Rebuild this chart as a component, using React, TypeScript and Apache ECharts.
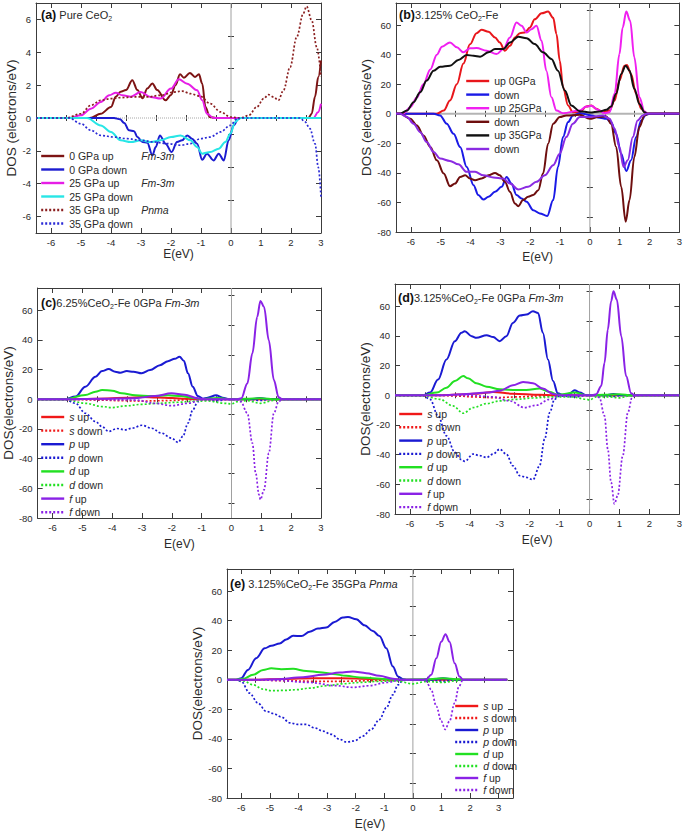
import React, { useEffect, useRef } from 'react';
import * as echarts from 'echarts';

// ---------- tick values ----------
const X_MAJ = [-6, -5, -4, -3, -2, -1, 0, 1, 2, 3];
const X_MIN = [-5.5, -4.5, -3.5, -2.5, -1.5, -0.5, 0.5, 1.5, 2.5];
const Y_MAJ_A = [-6, -4, -2, 0, 2, 4, 6];
const Y_MIN_A = [-5, -3, -1, 1, 3, 5];
const Y_MAJ = [-80, -60, -40, -20, 0, 20, 40, 60];
const Y_MIN = [-70, -50, -30, -10, 10, 30, 50, 70];

// ---------- panel (a) Pure CeO2 ----------
const a0up = [[-6.5,0],[-4.7,0],[-4.34,0.26],[-4.0,0.67],[-3.84,1.3],[-3.68,1.6],[-3.5,1.7],[-3.29,2.3],[-3.12,1.7],[-2.95,1.2],[-2.79,1.8],[-2.62,2.1],[-2.46,1.7],[-2.18,1.08],[-2.0,1.4],[-1.85,2.0],[-1.7,2.66],[-1.57,2.45],[-1.37,2.74],[-1.2,2.5],[-1.07,2.66],[-0.96,2.1],[-0.85,0.67],[-0.71,0.06],[-0.5,0],[2.58,0],[2.69,0.26],[2.8,1.3],[2.91,2.5],[3.0,3.5]];
const a0down = [[-6.5,0],[-3.9,0],[-3.7,-0.08],[-3.56,-0.3],[-3.4,-0.75],[-3.23,-0.8],[-3.12,-1.16],[-2.95,-1.46],[-2.79,-1.5],[-2.62,-2.27],[-2.51,-1.77],[-2.37,-1.06],[-2.18,-1.56],[-1.98,-2.07],[-1.8,-1.46],[-1.63,-1.36],[-1.46,-1.06],[-1.3,-1.26],[-1.13,-1.56],[-0.96,-2.54],[-0.8,-2.17],[-0.58,-2.58],[-0.41,-2.17],[-0.24,-2.58],[-0.08,-1.36],[0.09,-0.45],[0.25,0],[3,0]];
const a25up = [[-6.5,0],[-5.4,0],[-5.0,0.16],[-4.67,0.57],[-4.34,0.97],[-4.06,1.38],[-3.84,1.54],[-3.62,1.38],[-3.34,1.3],[-3.01,1.58],[-2.68,1.28],[-2.35,1.18],[-2.0,1.79],[-1.74,2.36],[-1.46,2.09],[-1.13,1.69],[-0.96,1.08],[-0.8,0.26],[-0.58,0],[2.75,0],[2.9,0.35],[3.0,0.87]];
const a25down = [[-6.5,0],[-4.8,0],[-4.34,-0.45],[-4.0,-0.85],[-3.68,-1.36],[-3.34,-1.46],[-3.0,-1.36],[-2.68,-1.46],[-2.35,-1.36],[-2.0,-1.16],[-1.68,-1.06],[-1.35,-1.36],[-1.13,-1.77],[-0.96,-2.17],[-0.69,-2.07],[-0.41,-1.87],[-0.19,-1.46],[-0.02,-0.95],[0.14,-0.24],[0.31,0],[3,0]];
const a35up = [[-6.5,0],[-5.5,0],[-5.0,0.26],[-4.67,0.77],[-4.34,1.08],[-4.0,1.18],[-3.68,1.24],[-3.23,1.28],[-2.79,1.28],[-2.35,1.38],[-1.9,1.58],[-1.63,1.64],[-1.35,1.48],[-1.02,1.32],[-0.69,0.87],[-0.35,0.37],[-0.02,0.06],[0.31,0],[0.59,0.16],[0.86,0.67],[1.09,1.18],[1.25,1.42],[1.42,1.28],[1.58,1.08],[1.75,1.69],[1.97,3.1],[2.19,4.93],[2.41,6.36],[2.52,6.8],[2.69,5.95],[2.86,4.3],[3.0,2.5]];
const a35down = [[-6.5,0],[-5.4,0],[-5.0,-0.35],[-4.67,-0.75],[-4.34,-1.06],[-3.9,-1.16],[-3.45,-1.26],[-3.0,-1.36],[-2.57,-1.46],[-2.13,-1.56],[-1.68,-1.66],[-1.35,-1.56],[-1.02,-1.26],[-0.69,-1.16],[-0.35,-0.85],[-0.02,-0.45],[0.2,-0.04],[0.4,0],[2.3,0],[2.47,-0.24],[2.63,-0.65],[2.8,-1.56],[2.91,-3.0],[3.0,-4.8]];

// ---------- panel (b) 3.125% CeO2-Fe ----------
const b0up = [[-6.5,0],[-5.13,0],[-4.9,2.2],[-4.69,9],[-4.46,20],[-4.24,34],[-4.02,47],[-3.8,54.6],[-3.63,56.9],[-3.4,55.5],[-3.18,51.7],[-3.02,48.3],[-2.85,42.7],[-2.68,46],[-2.51,51.7],[-2.35,54.6],[-2.18,55],[-2.01,58.4],[-1.85,64],[-1.62,68],[-1.4,69.2],[-1.23,65],[-1.12,54],[-1.01,36],[-0.9,18],[-0.73,5.6],[-0.57,1.1],[-0.34,1.1],[-0.12,4.9],[0.05,5.6],[0.21,3.4],[0.44,1.1],[0.66,2.2],[0.83,9],[0.99,22.5],[1.16,32.6],[1.24,33],[1.38,27],[1.55,13.5],[1.72,3.4],[1.88,0.4],[2.0,0],[3,0]];
const b0down = [[-6.5,0],[-5.24,0],[-5.02,-1.1],[-4.8,-6.7],[-4.57,-13.5],[-4.35,-22.5],[-4.13,-36],[-3.9,-48.3],[-3.74,-55],[-3.57,-58],[-3.4,-56.2],[-3.18,-52.8],[-2.96,-49.4],[-2.79,-42.7],[-2.63,-47.2],[-2.46,-55],[-2.29,-57.3],[-2.12,-59.6],[-1.9,-65.2],[-1.68,-67.4],[-1.43,-69.2],[-1.23,-58.4],[-1.07,-36],[-0.9,-15.7],[-0.73,-5.6],[-0.57,-1.1],[-0.34,0.4],[0.05,-1.1],[0.33,-2.7],[0.55,-3.4],[0.71,-5.6],[0.88,-13.5],[1.05,-27],[1.22,-38.7],[1.38,-31.5],[1.55,-15.7],[1.72,-4.5],[1.88,-0.7],[2.0,0],[3,0]];
const b25up = [[-6.5,0],[-6.36,0],[-6.24,0.4],[-6.02,4.5],[-5.8,11],[-5.58,20],[-5.35,30],[-5.13,40],[-4.96,45.4],[-4.69,48.3],[-4.46,45],[-4.24,41.6],[-4.02,44.3],[-3.8,44.5],[-3.46,42.7],[-3.13,40.4],[-2.9,43.8],[-2.68,51.7],[-2.46,61.8],[-2.29,59.6],[-2.12,55],[-1.96,57.3],[-1.79,59.6],[-1.62,49.4],[-1.46,29.2],[-1.29,11.2],[-1.12,2.2],[-0.9,0.4],[-0.34,2.2],[-0.12,4.9],[0.05,5.4],[0.27,2.7],[0.49,0.4],[0.66,1.1],[0.83,13.5],[0.99,40.4],[1.1,58.4],[1.22,69.2],[1.35,63],[1.49,38.2],[1.66,11.2],[1.83,1.6],[1.95,0],[3,0]];
const b25down = [[-6.5,0],[-6.36,0],[-6.02,-3.4],[-5.8,-7.9],[-5.58,-14.6],[-5.35,-22.5],[-5.13,-31.5],[-4.9,-40.4],[-4.69,-49],[-4.52,-47.2],[-4.35,-42.7],[-4.18,-41.6],[-4.02,-43.8],[-3.85,-45],[-3.63,-43.8],[-3.4,-41.6],[-3.18,-40],[-3.02,-41.6],[-2.85,-46],[-2.68,-52.8],[-2.51,-60.7],[-2.4,-62.5],[-2.24,-58.4],[-2.07,-56.2],[-1.9,-55],[-1.73,-51.7],[-1.57,-40.4],[-1.4,-20.2],[-1.23,-6.7],[-1.01,-2.2],[-0.79,-1.1],[-0.34,-0.7],[0.0,-3.4],[0.27,-2.2],[0.55,-1.8],[0.71,-6.7],[0.88,-22.5],[1.05,-49.4],[1.2,-73],[1.33,-58.4],[1.49,-29.2],[1.66,-9],[1.83,-1.1],[1.95,0],[3,0]];
const b35up = [[-6.5,0],[-6.36,0],[-6.13,2.2],[-5.91,7.9],[-5.69,14.6],[-5.47,22.5],[-5.24,29.2],[-5.02,31.9],[-4.69,32.6],[-4.41,36.4],[-4.13,39.8],[-3.9,39.3],[-3.68,38.7],[-3.4,41.6],[-3.18,43.8],[-2.9,43.8],[-2.68,48.3],[-2.4,52.1],[-2.12,51.2],[-1.85,47.2],[-1.57,41.6],[-1.29,37.1],[-1.07,29.2],[-0.84,15.7],[-0.62,5.6],[-0.34,1.8],[0.0,0.9],[0.33,1.6],[0.55,2.7],[0.71,4.9],[0.88,13.5],[1.05,27],[1.2,32.6],[1.33,29.2],[1.49,16.9],[1.66,6.7],[1.83,1.1],[1.95,0],[3,0]];
const b35down = [[-6.5,0],[-6.36,0],[-6.13,-2.2],[-5.91,-6.7],[-5.69,-12.4],[-5.47,-19.1],[-5.24,-25.8],[-5.02,-30.3],[-4.69,-31.9],[-4.41,-34.2],[-4.13,-39.3],[-3.85,-39.3],[-3.57,-41.6],[-3.24,-43.1],[-2.9,-43.8],[-2.68,-47.2],[-2.4,-51.2],[-2.07,-49.4],[-1.79,-46],[-1.51,-41.6],[-1.23,-34.8],[-1.01,-27],[-0.79,-15.7],[-0.57,-6.7],[-0.34,-2.2],[0.0,-2.2],[0.44,-1.1],[0.66,-3.4],[0.83,-10.1],[0.99,-22.5],[1.13,-36],[1.27,-31.5],[1.44,-15.7],[1.6,-4.5],[1.77,-1.1],[1.9,0],[3,0]];

// ---------- panel (c) 6.25%CeO2-Fe 0GPa ----------
const cSup = [[-6.5,0],[-5.5,0],[-4.5,0.4],[-3.5,1],[-3,1.5],[-2.5,1.2],[-2,0.8],[-1.5,0.3],[-1.1,0],[3,0]];
const cSdown = [[-6.5,0],[-5.5,0],[-4.5,-0.5],[-3.5,-1],[-3,-1.2],[-2.5,-1],[-2,-0.8],[-1.5,-0.3],[-1.1,0],[3,0]];
const cPup = [[-6.5,0],[-5.6,0],[-5.23,1.8],[-4.9,8.5],[-4.56,15.2],[-4.34,19],[-4.12,20.4],[-3.9,18.6],[-3.73,17.9],[-3.51,19],[-3.29,18.6],[-3.01,17.5],[-2.73,19.7],[-2.4,23],[-2.13,25.7],[-1.9,27.3],[-1.74,28.7],[-1.6,26],[-1.46,17.5],[-1.3,8.5],[-1.13,2.2],[-0.96,0.4],[-0.8,1.1],[-0.52,2.7],[-0.3,1.1],[-0.08,0],[0.6,0],[0.95,0.8],[1.3,0],[3,0]];
const cPdown = [[-6.5,0],[-5.6,0],[-5.23,-2.7],[-4.9,-9.4],[-4.56,-15],[-4.34,-18.4],[-4.12,-21.7],[-3.84,-19.7],[-3.57,-20.6],[-3.34,-19.5],[-3.0,-17.5],[-2.68,-19.5],[-2.35,-22.8],[-2.01,-26.2],[-1.79,-29.1],[-1.63,-25],[-1.46,-16.1],[-1.3,-7.2],[-1.13,-1.6],[-0.96,0],[-0.5,-1],[-0.1,0],[0.6,0],[0.95,-0.8],[1.3,0],[3,0]];
const cDup = [[-6.5,0],[-5.6,0],[-4.9,2.9],[-4.56,5.1],[-4.34,6.3],[-4.0,5.8],[-3.68,4],[-3.23,2.7],[-2.68,2.2],[-2.13,2.7],[-1.68,2.2],[-1.35,1.1],[-1.02,0.2],[-0.46,0.9],[0,0],[0.5,0.3],[0.97,0.7],[1.5,0],[3,0]];
const cDdown = [[-6.5,0],[-5.6,0],[-4.9,-2.7],[-4.34,-4.9],[-4.0,-5.6],[-3.57,-4.5],[-3.0,-3.4],[-2.46,-2.7],[-1.79,-2],[-1.24,-1.3],[-0.8,-1.1],[-0.24,-2.7],[0,-3.1],[0.2,-1.6],[0.53,-0.9],[0.97,-2.7],[1.42,-0.8],[1.6,0],[3,0]];
const cFup = [[-6.5,0],[-5.5,0],[-4.5,0.3],[-3.23,0.7],[-2.57,2.2],[-2.01,4],[-1.57,3.1],[-1.13,0.7],[-0.9,0],[0.2,0],[0.33,0.7],[0.53,10.7],[0.7,31],[0.86,55.5],[0.97,66.3],[1.09,62.2],[1.25,39.8],[1.42,13],[1.58,1.3],[1.7,0],[3,0]];
const cFdown = [[-6.5,0],[-5.5,0],[-3.2,-0.5],[-2.57,-2.7],[-2.01,-4.3],[-1.46,-2.7],[-1.02,-0.4],[-0.8,0],[0.15,0],[0.31,-1.6],[0.53,-9.4],[0.7,-29.6],[0.81,-49.7],[0.92,-64.2],[0.97,-67.6],[1.09,-61],[1.25,-36.3],[1.42,-9.4],[1.58,-1.6],[1.7,0],[3,0]];

// ---------- panel (d) 3.125%CeO2-Fe 0GPa ----------
const dSup = [[-6.5,0],[-5,0],[-4.4,0.5],[-3.89,1],[-3.22,2.2],[-2.56,1.1],[-1.67,0.4],[-1.2,0],[3,0]];
const dSdown = [[-6.5,0],[-5,0],[-4.4,-0.5],[-3.89,-1.1],[-3.22,-1.6],[-2.4,-1.1],[-1.6,-0.4],[-1.2,0],[3,0]];
const dPup = [[-6.5,0],[-5.56,0],[-5.33,1.8],[-5.06,10.7],[-4.78,24.2],[-4.5,36.5],[-4.28,42.1],[-4.17,43.2],[-3.94,39.8],[-3.78,38.7],[-3.44,40.5],[-3.22,39.2],[-3.0,36.5],[-2.78,39.8],[-2.56,48.8],[-2.33,53.7],[-2.11,54.4],[-1.89,56.6],[-1.72,55.5],[-1.56,42.1],[-1.39,24.2],[-1.22,9.6],[-1.06,1.3],[-0.89,0.2],[-0.67,1.1],[-0.5,3.4],[-0.33,1.8],[-0.11,0],[0.5,0],[0.8,0.8],[1.1,0],[3,0]];
const dPdown = [[-6.5,0],[-5.56,0],[-5.33,-2.7],[-5.06,-13.9],[-4.78,-27.3],[-4.5,-38.5],[-4.28,-43.4],[-4.17,-44.5],[-3.89,-39.6],[-3.67,-40.7],[-3.44,-41.9],[-3.22,-39.6],[-3.0,-36.3],[-2.78,-39.6],[-2.56,-47.5],[-2.33,-54.2],[-2.11,-55.3],[-1.89,-56.9],[-1.67,-47.5],[-1.5,-29.5],[-1.33,-11.6],[-1.17,-2.7],[-1.0,-0.4],[-0.5,-1.1],[-0.1,0],[0.5,0],[0.8,-0.8],[1.1,0],[3,0]];
const dDup = [[-6.5,0],[-5.56,0],[-5.11,1.8],[-4.78,5.1],[-4.5,9.6],[-4.22,13],[-4.06,11.4],[-3.78,8.1],[-3.44,5.8],[-3.0,4],[-2.44,3.6],[-2.11,3.6],[-1.67,4.5],[-1.33,2.2],[-1.06,0.4],[-0.5,1.8],[-0.1,0],[0.5,0.3],[1.0,0.7],[1.4,0],[3,0]];
const dDdown = [[-6.5,0],[-5.6,0],[-5.0,-2.7],[-4.56,-7.2],[-4.22,-12.1],[-3.89,-8.3],[-3.44,-5.6],[-3.0,-3.8],[-2.44,-2.7],[-1.89,-1.8],[-1.33,-1.1],[-0.56,-1.1],[-0.11,-2.7],[0.0,-3.1],[0.22,-1.1],[0.67,-1.1],[1.0,-1.8],[1.33,-0.4],[1.5,0],[3,0]];
const dFup = [[-6.5,0],[-5.0,0],[-4.11,0.9],[-3.44,1.8],[-3.0,3.1],[-2.56,6.7],[-2.22,9],[-1.89,8.1],[-1.56,4.5],[-1.22,0.9],[-1.0,0],[0.1,0],[0.22,0.7],[0.39,6.3],[0.5,21.9],[0.61,44.3],[0.72,63.4],[0.8,70.1],[0.91,64.5],[1.06,39.8],[1.22,13],[1.39,1.3],[1.5,0],[3,0]];
const dFdown = [[-6.5,0],[-4,0],[-3.22,-1.1],[-2.67,-3.8],[-2.17,-8.3],[-1.78,-6.7],[-1.33,-2.7],[-1.0,0],[0.2,0],[0.33,-1.6],[0.5,-13.9],[0.61,-36.3],[0.72,-58.6],[0.83,-73.2],[0.94,-67.6],[1.11,-40.7],[1.28,-11.6],[1.42,-1.6],[1.52,0],[3,0]];

// ---------- panel (e) 3.125%CeO2-Fe 35GPa ----------
const eSup = [[-6.5,0],[-5.5,0],[-4.5,0.6],[-3.5,1],[-2.5,1],[-1.5,0.6],[-0.8,0],[3.3,0]];
const eSdown = [[-6.5,0],[-5.5,0],[-4.5,-0.6],[-3.5,-1],[-2.5,-1],[-1.5,-0.6],[-0.8,0],[3.3,0]];
const ePup = [[-6.5,0],[-6.17,0],[-6.0,1.1],[-5.77,6.7],[-5.48,14.6],[-5.18,21.3],[-4.95,23.1],[-4.66,24.6],[-4.43,27.3],[-4.19,29.8],[-3.9,29.6],[-3.61,32.5],[-3.32,34.7],[-3.03,35.4],[-2.74,39.2],[-2.45,42.1],[-2.27,42.5],[-1.98,41],[-1.69,36.9],[-1.4,33.1],[-1.17,29.6],[-0.93,21.3],[-0.7,9],[-0.52,2.2],[-0.35,0.4],[-0.2,0],[0.6,0],[1.05,1],[1.5,0],[3.3,0]];
const ePdown = [[-6.5,0],[-6.17,0],[-6.0,-1.1],[-5.71,-9],[-5.42,-15.7],[-5.13,-21.3],[-4.89,-22.8],[-4.6,-25.1],[-4.31,-29.1],[-4.02,-30.2],[-3.73,-30.2],[-3.44,-32.5],[-3.15,-34.7],[-2.85,-36.9],[-2.56,-40.3],[-2.33,-42.1],[-2.04,-41.4],[-1.75,-38.1],[-1.46,-33.6],[-1.17,-26.9],[-0.93,-19],[-0.7,-10.1],[-0.52,-3.4],[-0.35,-0.4],[-0.2,0],[0.6,0],[1.05,-1],[1.5,0],[3.3,0]];
const eDup = [[-6.5,0],[-6.2,0],[-5.94,0.7],[-5.59,3.4],[-5.24,6.7],[-4.95,7.8],[-4.6,7.2],[-4.19,7.4],[-3.73,6],[-3.26,5.1],[-2.8,4],[-2.33,2.7],[-1.86,1.6],[-1.4,1.1],[-0.82,0.4],[-0.4,0],[0.5,0.3],[1.05,1.1],[1.6,0.3],[1.75,0],[3.3,0]];
const eDdown = [[-6.5,0],[-6.2,0],[-5.94,-0.7],[-5.59,-3.4],[-5.24,-6.3],[-4.95,-7.4],[-4.54,-7.2],[-4.08,-6.7],[-3.61,-5.6],[-3.03,-4],[-2.45,-2.7],[-1.86,-1.8],[-1.28,-1.1],[-0.58,-0.7],[0,-2.7],[0.47,-1.1],[1.05,-1.8],[1.51,-0.7],[1.75,0],[3.3,0]];
const eFup = [[-6.5,0],[-5.5,0],[-4.78,0.4],[-3.84,1.8],[-3.15,3.4],[-2.56,4.9],[-2.1,5.6],[-1.63,4.5],[-1.17,2.7],[-0.7,0.7],[-0.4,0],[0.35,0],[0.47,0.4],[0.64,3.4],[0.82,14.6],[0.99,25.7],[1.14,30.9],[1.28,25.7],[1.46,11.2],[1.63,2.2],[1.75,0],[3.3,0]];
const eFdown = [[-6.5,0],[-5.5,0],[-4.78,-0.4],[-3.61,-1.8],[-2.68,-4],[-2.1,-5.1],[-1.52,-4],[-0.93,-1.8],[-0.47,-0.4],[-0.2,0],[0.35,0],[0.47,-1.1],[0.64,-6.7],[0.82,-17.9],[0.99,-28],[1.13,-33.6],[1.28,-28],[1.46,-15.7],[1.61,-4.5],[1.75,0],[3.3,0]];

// ---------- legend labels ----------
const A_NAMES = ['0 GPa up', '0 GPa down', '25 GPa up', '25 GPa down', '35 GPa up', '35 GPa down'];
const A_PHASE: Record<string, string> = { '0 GPa up': 'Fm-3m', '25 GPa up': 'Fm-3m', '35 GPa up': 'Pnma' };
const B_NAMES = ['up 0GPa', 'down', 'up 25GPa', 'down ', 'up 35GPa', 'down  '];
const ORB_NAMES = ['s up', 's down', 'p up', 'p down', 'd up', 'd down', 'f up', 'f down'];

const FONT = '"Liberation Sans", Arial, Helvetica, sans-serif';
const AX = '#3c3c3c';
const TXT = '#2a2a2a';

const ORB_COL: Record<string, string> = { s: '#f01818', p: '#1a1ad2', d: '#22e022', f: '#8a22e6' };

function buildAxes(gi: number, xr: number[], yr: number[], yMaj: number[], yMin: number[], yName: string, yGap: number, xGap: number, xMin: number[]) {
  const base = (min: number, max: number) => ({ gridIndex: gi, type: 'value', min, max, splitLine: { show: false } });
  const line = { show: true, onZero: false, lineStyle: { color: AX, width: 1 } };
  const tk = (vals: number[], len: number) => ({ show: true, inside: true, length: len, customValues: vals, lineStyle: { color: AX, width: 1 } });
  const lab = (vals: number[]) => ({ show: true, customValues: vals, fontSize: 9.5, color: TXT, fontFamily: FONT, margin: 4 });
  const xs = [
    { ...base(xr[0], xr[1]), position: 'bottom', axisLine: line, axisTick: tk(X_MAJ, 5), axisLabel: lab(X_MAJ),
      name: 'E(eV)', nameLocation: 'middle', nameGap: xGap, nameTextStyle: { fontSize: 12, color: TXT, fontFamily: FONT } },
    { ...base(xr[0], xr[1]), position: 'top', axisLine: line, axisTick: tk(X_MAJ, 5), axisLabel: { show: false } },
    { ...base(xr[0], xr[1]), position: 'bottom', axisLine: { show: false }, axisTick: tk(xMin, 3), axisLabel: { show: false } },
    { ...base(xr[0], xr[1]), position: 'top', axisLine: { show: false }, axisTick: tk(xMin, 3), axisLabel: { show: false } },
  ];
  const ys = [
    { ...base(yr[0], yr[1]), position: 'left', axisLine: line, axisTick: tk(yMaj, 5), axisLabel: { ...lab(yMaj), margin: 5 },
      name: yName, nameLocation: 'middle', nameGap: yGap, nameTextStyle: { fontSize: 13.5, color: TXT, fontFamily: FONT } },
    { ...base(yr[0], yr[1]), position: 'right', axisLine: line, axisTick: tk(yMaj, 5), axisLabel: { show: false } },
    { ...base(yr[0], yr[1]), position: 'left', axisLine: { show: false }, axisTick: tk(yMin, 3), axisLabel: { show: false } },
    { ...base(yr[0], yr[1]), position: 'right', axisLine: { show: false }, axisTick: tk(yMin, 3), axisLabel: { show: false } },
  ];
  return { xs, ys };
}

function ln(gi: number, name: string, data: number[][], color: string, dotted: boolean) {
  return {
    type: 'line', name, data, xAxisIndex: 4 * gi, yAxisIndex: 4 * gi,
    smooth: 0.35, smoothMonotone: 'x', symbol: 'none', showSymbol: false, silent: true,
    lineStyle: { color, width: dotted ? 1.7 : 2, type: dotted ? [2, 2] : 'solid' },
    itemStyle: { color },
  };
}

function refLine(gi: number, name: string, data: number[][], color: string, width: number, type: any) {
  return {
    type: 'line', name, data, xAxisIndex: 4 * gi, yAxisIndex: 4 * gi, symbol: 'none', silent: true,
    lineStyle: { color, width, type }, itemStyle: { color }, z: 1,
  };
}

function legendFor(names: string[], left: number, top: number, gap: number, formatter: (n: string) => string, nameW?: number) {
  return {
    data: names, orient: 'vertical', left, top, padding: 0, itemWidth: 23, itemHeight: 8, itemGap: gap,
    selectedMode: false, formatter,
    itemStyle: { opacity: 0, borderWidth: 0 },
    lineStyle: { width: 2.4 },
    textStyle: {
      fontSize: 10.5, color: TXT, fontFamily: FONT, lineHeight: 12,
      rich: {
        i: { fontStyle: 'italic', fontSize: 10.5, color: TXT, fontFamily: FONT, lineHeight: 12 },
        n: { width: nameW || 0, fontSize: 10.5, color: TXT, fontFamily: FONT, lineHeight: 12 },
        t: { fontSize: 10.5, color: TXT, fontFamily: FONT, lineHeight: 12 },
      },
    },
  };
}

function titleFor(text: string, left: number, top: number) {
  return {
    text, left, top, padding: 0,
    textStyle: {
      fontSize: 11, fontWeight: 'normal', color: TXT, fontFamily: FONT, lineHeight: 14,
      rich: {
        b: { fontSize: 12.5, fontWeight: 'bold', color: '#111', fontFamily: FONT, lineHeight: 14 },
        t: { fontSize: 11, color: TXT, fontFamily: FONT, lineHeight: 14 },
        i: { fontSize: 11, fontStyle: 'italic', color: TXT, fontFamily: FONT, lineHeight: 14 },
        s: { fontSize: 7, color: TXT, fontFamily: FONT, lineHeight: 6, verticalAlign: 'bottom' },
      },
    },
  };
}

export default function App() {
  const ref = useRef<HTMLDivElement>(null);
  useEffect(() => {
    if (!ref.current) return;
    const chart = echarts.init(ref.current, undefined, { renderer: 'svg' });

    const grids = [
      { left: 36, top: 3, width: 285, height: 230 },
      { left: 396, top: 3, width: 284, height: 229 },
      { left: 36, top: 288, width: 285, height: 230 },
      { left: 395, top: 284, width: 285, height: 230 },
      { left: 227, top: 569, width: 286, height: 229 },
    ];

    const axA = buildAxes(0, [-6.5, 3], [-7, 7], Y_MAJ_A, Y_MIN_A, 'DOS (electrons/eV)', 17, 15, X_MIN);
    const axB = buildAxes(1, [-6.5, 3], [-80, 75], Y_MAJ, Y_MIN, 'DOS (electrons/eV)', 17, 19, X_MIN);
    const axC = buildAxes(2, [-6.5, 3], [-80, 75], Y_MAJ, Y_MIN, 'DOS(electrons/eV)', 18, 20, X_MIN);
    const axD = buildAxes(3, [-6.5, 3], [-80, 75], Y_MAJ, Y_MIN, 'DOS(electrons/eV)', 19, 20, X_MIN);
    const axE = buildAxes(4, [-6.5, 3.5], [-80, 75], Y_MAJ, Y_MIN, 'DOS(electrons/eV)', 20, 20, X_MIN);
    const all = [axA, axB, axC, axD, axE];

    const orbData = [
      [cSup, cSdown, cPup, cPdown, cDup, cDdown, cFup, cFdown],
      [dSup, dSdown, dPup, dPdown, dDup, dDdown, dFup, dFdown],
      [eSup, eSdown, ePup, ePdown, eDup, eDdown, eFup, eFdown],
    ];
    const orbNames = (k: number) => ORB_NAMES.map((n) => n + ' '.repeat(k));

    const series: any[] = [
      refLine(0, 'ref-a-h', [[-6.5, 0], [3, 0]], '#a8a8a8', 1, 'dotted'),
      refLine(0, 'ref-a-v', [[0, -7], [0, 7]], '#a0a0a0', 1, 'solid'),
      ln(0, A_NAMES[0], a0up, '#7d1414', false),
      ln(0, A_NAMES[1], a0down, '#1c1cd0', false),
      ln(0, A_NAMES[2], a25up, '#e61ee6', false),
      ln(0, A_NAMES[3], a25down, '#28e6e6', false),
      ln(0, A_NAMES[4], a35up, '#8b1f1f', true),
      ln(0, A_NAMES[5], a35down, '#2b2bd6', true),
      refLine(1, 'ref-b-h', [[-6.5, 0], [3, 0]], '#b4b4b4', 2, 'solid'),
      refLine(1, 'ref-b-v', [[0, -80], [0, 75]], '#a0a0a0', 1, 'solid'),
      ln(1, B_NAMES[0], b0up, '#e8161b', false),
      ln(1, B_NAMES[1], b0down, '#1a1ae6', false),
      ln(1, B_NAMES[2], b25up, '#f020f0', false),
      ln(1, B_NAMES[3], b25down, '#6e0e0e', false),
      ln(1, B_NAMES[4], b35up, '#111111', false),
      ln(1, B_NAMES[5], b35down, '#8a2be2', false),
    ];
    [2, 3, 4].forEach((gi, k) => {
      series.push(refLine(gi, 'ref-v-' + gi, [[0, -80], [0, 75]], '#a0a0a0', 1, 'solid'));
      const names = orbNames(k);
      names.forEach((n, j) => {
        const orb = ORB_NAMES[j][0];
        series.push(ln(gi, n, orbData[k][j], ORB_COL[orb], j % 2 === 1));
      });
    });

    const orbFmt = (n: string) => { const t = n.trim(); return '{i|' + t[0] + '}{t|' + t.slice(1) + '}'; };

    const option: any = {
      animation: false,
      backgroundColor: '#ffffff',
      textStyle: { fontFamily: FONT },
      grid: grids,
      xAxis: all.flatMap((a) => a.xs),
      yAxis: all.flatMap((a) => a.ys),
      legend: [
        legendFor(A_NAMES, 40, 150, 1.5, (n) => A_PHASE[n] ? '{n|' + n + '}{i|' + A_PHASE[n] + '}' : '{t|' + n + '}', 72),
        legendFor(B_NAMES, 465, 75, 1.6, (n) => '{t|' + n.trim() + '}'),
        legendFor(orbNames(0), 40, 411, 1.6, orbFmt),
        legendFor(orbNames(1), 398, 408, 1.3, orbFmt),
        legendFor(orbNames(2), 454, 700, 0, orbFmt),
      ],
      title: [
        titleFor('{b|(a)}{t| Pure CeO}{s|2}', 41, 8),
        titleFor('{b|(b)}{t|3.125% CeO}{s|2}{t|-Fe}', 399, 8),
        titleFor('{b|(c)}{t|6.25%CeO}{s|2}{t|-Fe 0GPa }{i|Fm-3m}', 41, 296),
        titleFor('{b|(d)}{t|3.125%CeO}{s|2}{t|-Fe 0GPa }{i|Fm-3m}', 398, 291),
        titleFor('{b|(e)}{t| 3.125%CeO}{s|2}{t|-Fe 35GPa }{i|Pnma}', 230, 577),
      ],
      series,
    };
    chart.setOption(option);
    return () => chart.dispose();
  }, []);

  return (
    <div
      ref={ref}
      style={{ position: 'absolute', left: 0, top: 0, width: 685, height: 833, background: '#fff' }}
    />
  );
}
